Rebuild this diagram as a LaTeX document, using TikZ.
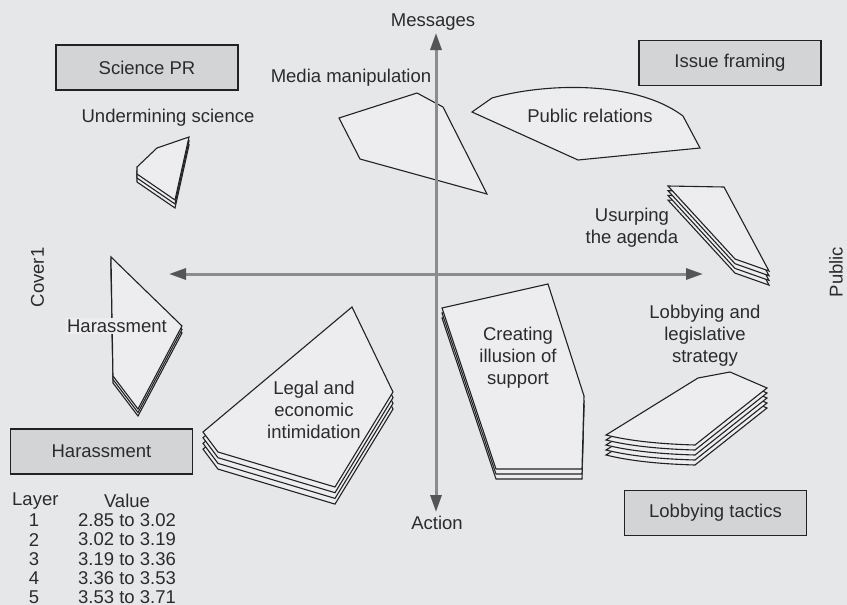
\documentclass[tikz,border=0pt]{standalone}
\usepackage{fontspec}
\setmainfont{Liberation Sans}
\usetikzlibrary{arrows.meta}
\definecolor{bgc}{HTML}{E6E7E9}
\definecolor{shapefill}{HTML}{EDEDEF}
\definecolor{boxfill}{HTML}{D3D4D6}
\definecolor{edgec}{HTML}{222222}
\definecolor{axisc}{HTML}{8C8C8C}
\definecolor{tipc}{HTML}{555555}
\definecolor{txtc}{HTML}{2B2B2B}
\begin{document}
\begin{tikzpicture}[x=1pt,y=-1pt,
  every node/.style={font=\fontsize{18.5}{22}\selectfont, text=txtc, inner sep=0pt},
  legendbox/.style={draw=edgec, line width=1.4pt, fill=boxfill, minimum width=182pt, minimum height=45pt},
  layer/.style={draw=edgec, fill=shapefill, line width=1.1pt, line join=miter},
  axisline/.style={draw=axisc, line width=3pt,
    arrows={Triangle[length=17pt,width=11pt,color=tipc]-Triangle[length=17pt,width=11pt,color=tipc]}},
  lbl/.style={align=center}
]
\fill[bgc] (0,0) rectangle (847,605);
\useasboundingbox (0,0) rectangle (847,605);

% legend boxes
\node[legendbox] (bSci) at (147,67.5) {Science PR};
\node[legendbox] (bIss) at (730,63) {Issue framing};
\node[legendbox] (bHar) at (101.5,451.5) {Harassment};
\node[legendbox] (bLob) at (715.5,513) {Lobbying tactics};

% Undermining science (3 layers)
\foreach \k in {2,1,0}
  \path[layer, shift={(0,4*\k)}] (137,167) -- (157,148) -- (189,137) -- (175,200) -- (137,174) -- cycle;

% Media manipulation (1 layer)
\path[layer] (339,118) -- (417,93) -- (443,107) -- (487,194) -- (360,159) -- cycle;

% Public relations (1 layer)
\path[layer] (472,112) -- (492,98) .. controls (545,83) and (635,80) .. (683,116) -- (700,148) -- (578,160) -- cycle;

% Usurping the agenda (4 layers)
\foreach \k in {3,2,1,0}
  \path[layer, shift={(0,4.7*\k)}] (668,186) -- (724,187) -- (769,271) -- (735,259) -- cycle;

% Harassment (3 layers)
\foreach \k in {2,1,0}
  \path[layer, shift={(0,3.5*\k)}] (111,257) -- (182,326) -- (138,409) -- (113,376) -- cycle;

% Legal and economic intimidation (4 layers)
\foreach \k in {3,2,1,0}
  \path[layer, shift={(0,5.7*\k)}] (352,307) -- (393,392) -- (335,487) -- (218,452) -- (203,432) -- cycle;

% Creating illusion of support (3 layers)
\foreach \k in {2,1,0}
  \path[layer, shift={(0,5*\k)}] (442,308) -- (548,284) -- (584,396) -- (582,469) -- (496,469) -- cycle;

% Lobbying and legislative strategy (5 layers)
\foreach \k in {4,3,2,1,0}
  \path[layer, shift={(0,5*\k)}] (606,435) -- (698,378) -- (730,372) -- (767,388) -- (695,445)
    .. controls (660,444) and (630,441) .. (606,435) -- cycle;

% axes
\coordinate (axL) at (169,274);
\coordinate (axR) at (703,274);
\coordinate (axT) at (436,33);
\coordinate (axB) at (436,512);
\draw[axisline] (axL) -- (axR);
\draw[axisline] (axB) -- (axT);

% labels
\node (tMsg) at (433,22) {Messages};
\node (tAct) at (437,523) {Action};
\node (tMed) at (351,78) {Media manipulation};
\node (tUnd) at (168,118) {Undermining science};
\node (tPR) at (590,116) {Public relations};
\node[lbl] (tUsu) at (632,228) {Usurping\\the agenda};
\node[fill=shapefill, inner sep=1.5pt] (tHar) at (117,326) {Harassment};
\node[lbl] (tLeg) at (314,410) {Legal and\\economic\\intimidation};
\node[lbl] (tCre) at (518,358) {Creating\\illusion of\\support};
\node[lbl] (tLob) at (705,336) {Lobbying and\\legislative\\strategy};
\node[rotate=90] (tCov) at (37.5,277.5) {Cover1};
\node[rotate=90] (tPub) at (836,272) {Public};

% layer table
\node[anchor=west] (lgL) at (12,501) {Layer};
\node (lgV) at (127,501) {Value};
\foreach \i/\v [count=\r from 0] in {1/2.85 to 3.02, 2/3.02 to 3.19, 3/3.19 to 3.36, 4/3.36 to 3.53, 5/3.53 to 3.71} {
  \node (ln\i) at (34,520.5+19.1*\r) {\i};
  \node[anchor=west] (lv\i) at (78,520.5+19.1*\r) {\v};
}
\end{tikzpicture}
\end{document}
